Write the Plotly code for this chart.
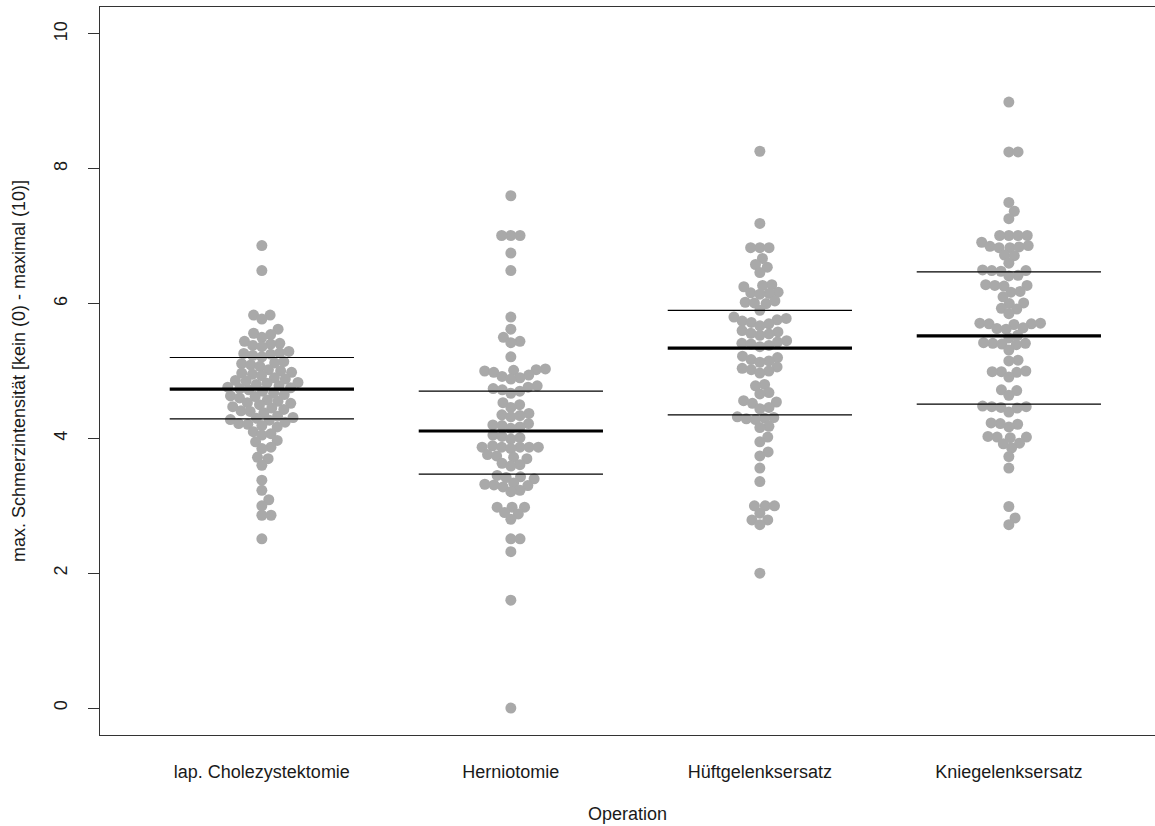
import math
import numpy as np
import plotly.graph_objects as go

# Pain scores per operation group
categories = ["lap. Cholezystektomie", "Herniotomie", "Hüftgelenksersatz", "Kniegelenksersatz"]

chole = [6.86, 6.49, 5.83, 5.83, 5.77,
         5.62, 5.56, 5.54, 5.50,
         5.44, 5.41, 5.40, 5.38, 5.36,
         5.29, 5.27, 5.26, 5.25, 5.23, 5.21,
         5.14, 5.12, 5.11, 5.09, 5.07,
         5.02, 5.00, 4.98, 4.97, 4.95, 4.93,
         4.90, 4.88, 4.86, 4.85, 4.83, 4.82, 4.80,
         4.78, 4.76, 4.75, 4.74, 4.72, 4.70,
         4.67, 4.65, 4.63, 4.62, 4.60,
         4.57, 4.55, 4.53, 4.52, 4.50,
         4.47, 4.45, 4.43, 4.41, 4.40, 4.38,
         4.33, 4.31, 4.30, 4.28, 4.27,
         4.24, 4.22, 4.21, 4.19, 4.17,
         4.10, 4.07, 4.05, 3.97, 3.95, 3.87, 3.85, 3.72, 3.70,
         3.60, 3.38, 3.23, 3.09, 3.00, 2.86, 2.86, 2.51]

hernio = [7.60, 7.01, 7.01, 7.01, 6.75, 6.49, 5.80, 5.62, 5.50, 5.44, 5.42, 5.21,
          5.03, 5.02, 5.01, 5.00, 4.98,
          4.94, 4.92, 4.90, 4.88,
          4.78, 4.76, 4.74, 4.72, 4.70, 4.67,
          4.53, 4.50, 4.46,
          4.37, 4.35, 4.34, 4.32,
          4.22, 4.20, 4.19, 4.17, 4.15,
          4.05, 4.03, 4.01, 3.99,
          3.89, 3.87, 3.87, 3.87, 3.87, 3.87, 3.85,
          3.76, 3.74, 3.72, 3.70,
          3.63, 3.61, 3.59,
          3.45, 3.43, 3.42, 3.40,
          3.34, 3.32, 3.31, 3.30, 3.28,
          3.23, 3.21,
          2.98, 2.98, 2.98, 2.90, 2.88, 2.80, 2.51, 2.51, 2.32, 1.60, 0.0]

huefte = [8.26, 7.19, 6.83, 6.83, 6.83, 6.67, 6.58, 6.54, 6.46,
          6.28, 6.27, 6.25,
          6.17, 6.16, 6.15, 6.14,
          6.04, 6.02, 6.01, 6.00,
          5.90,
          5.80, 5.78, 5.76, 5.74, 5.72, 5.70, 5.67,
          5.60, 5.58, 5.56, 5.55, 5.53,
          5.45, 5.43, 5.41, 5.40, 5.38, 5.36,
          5.22, 5.20, 5.17, 5.15, 5.13,
          5.06, 5.04, 5.02, 5.00, 4.97,
          4.80, 4.78, 4.68, 4.66, 4.56, 4.54, 4.52, 4.46, 4.44,
          4.32, 4.31, 4.30, 4.29, 4.28,
          4.18, 4.16,
          4.02, 3.95, 3.80, 3.74,
          3.56, 3.36, 3.00, 3.00, 3.00, 2.89, 2.79, 2.79, 2.72, 2.00]

knie = [8.99, 8.25, 8.25, 7.50, 7.37, 7.26,
        7.01, 7.01, 7.01, 7.01,
        6.91,
        6.83, 6.84, 6.85, 6.83, 6.86,
        6.72, 6.71, 6.60,
        6.49, 6.49, 6.48, 6.50,
        6.42, 6.41,
        6.28, 6.27, 6.26, 6.27,
        6.17, 6.18, 6.10, 6.00, 6.01, 5.93, 5.92, 5.85,
        5.71, 5.70, 5.70, 5.69, 5.71,
        5.63, 5.62, 5.64,
        5.53, 5.49,
        5.41, 5.42, 5.40, 5.41, 5.39,
        5.31, 5.16, 5.15,
        4.99, 5.00, 4.98, 4.99,
        4.91, 4.72, 4.71, 4.64,
        4.47, 4.48, 4.46, 4.47, 4.45,
        4.39,
        4.22, 4.23, 4.21, 4.17,
        4.02, 4.03, 4.01, 4.02,
        3.93, 3.92,
        3.86, 3.73, 3.56, 2.99, 2.82, 2.72]

groups = [chole, hernio, huefte, knie]

# Summary lines per group: median (thick) and quartiles (thin)
medians = [4.73, 4.11, 5.34, 5.52]
lower_q = [4.29, 3.47, 4.35, 4.51]
upper_q = [5.20, 4.70, 5.90, 6.47]

# Geometry used by the swarm layout (pixels per data unit)
PX_PER_X = 249.0
PX_PER_Y = 67.5
SPACING_PX = 9.2
HALF_LINE = 0.37


def swarm_offsets(values, d=SPACING_PX):
    """Beeswarm (swarm method, ascending priority): each point gets the
    smallest horizontal offset that does not collide with earlier points."""
    vals = np.asarray(values, dtype=float)
    order = np.argsort(vals, kind="stable")
    placed = []
    out = np.zeros(len(vals))
    for i in order:
        y = vals[i] * PX_PER_Y
        cands = [0.0]
        for px, py in placed:
            dy = abs(y - py)
            if dy < d:
                dx = math.sqrt(d * d - dy * dy)
                cands.extend([px + dx, px - dx])
        cands.sort(key=abs)
        x = cands[0]
        for c in cands:
            if all((c - px) ** 2 + (y - py) ** 2 >= d * d - 1e-6 for px, py in placed):
                x = c
                break
        placed.append((x, y))
        out[i] = x
    return out / PX_PER_X


fig = go.Figure()

xs, ys = [], []
for k, vals in enumerate(groups):
    offs = swarm_offsets(vals)
    xs.extend(list(k + 1 + offs))
    ys.extend(vals)

fig.add_trace(go.Scatter(
    x=xs, y=ys, mode="markers",
    marker=dict(size=11, color="#A9A9A9", line=dict(width=0)),
    hoverinfo="y", showlegend=False,
))

# Median and quartile segments
for k in range(len(categories)):
    c = k + 1
    for val, w in ((lower_q[k], 1.2), (upper_q[k], 1.2), (medians[k], 3.2)):
        fig.add_trace(go.Scatter(
            x=[c - HALF_LINE, c + HALF_LINE], y=[val, val], mode="lines",
            line=dict(color="black", width=w), hoverinfo="skip", showlegend=False,
        ))

font = dict(family="Liberation Sans, Arial, sans-serif", size=18, color="#1a1a1a")

fig.update_layout(
    width=1155, height=826,
    margin=dict(l=100, r=0, t=7, b=91),
    paper_bgcolor="white", plot_bgcolor="white",
    font=font,
    xaxis=dict(
        range=[0.35, 0.35 + 1055 / PX_PER_X],
        tickvals=[1, 2, 3, 4], ticktext=categories,
        ticks="", showgrid=False, zeroline=False,
        showline=True, mirror=True, linecolor="#333333", linewidth=1.3,
        ticklabelstandoff=20,
        title=dict(text="Operation", standoff=26, font=font),
    ),
    yaxis=dict(
        range=[-0.4, 10.4],
        tickvals=[0, 2, 4, 6, 8, 10],
        ticks="outside", ticklen=11, tickcolor="#333333", tickwidth=1.3,
        tickangle=-90, ticklabelstandoff=14,
        showgrid=False, zeroline=False,
        showline=True, mirror=False, linecolor="#333333", linewidth=1.3,
        title=dict(text="max. Schmerzintensität [kein (0) - maximal (10)]", standoff=20, font=font),
    ),
)

fig.write_html("out.html")
